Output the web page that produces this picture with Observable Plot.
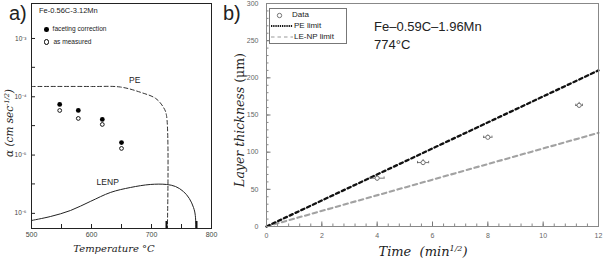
<!DOCTYPE html>
<html>
<head>
<meta charset="utf-8">
<script src="https://cdn.jsdelivr.net/npm/d3@7"></script>
<script src="https://cdn.jsdelivr.net/npm/@observablehq/plot@0.6"></script>
<style>
  body { margin: 0; background: #fff; }
  #fig { position: relative; width: 603px; height: 260px; overflow: hidden;
         font-family: "Liberation Sans", Arial, sans-serif; color: #222; }
  .abs { position: absolute; white-space: nowrap; line-height: 1; }
  .serif { font-family: "DejaVu Serif", serif; font-style: italic; }
  .rot { transform: translate(-50%, -50%) rotate(-90deg); }
  .ctr { transform: translate(-50%, -50%); }
  sup { font-size: 0.62em; vertical-align: 0.55em; line-height: 0; }
</style>
</head>
<body>
<div id="fig">
  <div id="layers"></div>
  <div class="abs" style="left:9px;top:3px;font-size:20px;">a)</div>
  <div class="abs" style="left:223px;top:3px;font-size:20px;">b)</div>

  <!-- panel a annotations -->
  <div class="abs" style="left:39px;top:7px;font-size:7.5px;color:#222;">Fe-0.56C-3.12Mn</div>
  <div class="abs" style="left:44px;top:26px;font-size:6.6px;color:#222;">
    <span style="display:inline-block;width:4.6px;height:4.6px;border-radius:50%;background:#000;margin-right:4px;vertical-align:-0.5px;"></span>faceting correction
  </div>
  <div class="abs" style="left:44px;top:39px;font-size:6.6px;color:#222;">
    <span style="display:inline-block;width:3.4px;height:3.4px;border-radius:50%;border:0.9px solid #000;margin-right:4px;vertical-align:-0.5px;"></span>as measured
  </div>
  <div class="abs serif rot" style="left:9px;top:123px;font-size:10.5px;">α (cm sec<sup>-1/2</sup>)</div>
  <div class="abs serif ctr" style="left:114px;top:249px;font-size:10px;">Temperature °C</div>

  <!-- panel b annotations -->
  <div class="abs" style="left:374px;top:20px;font-size:13px;color:#222;">Fe–0.59C–1.96Mn</div>
  <div class="abs" style="left:374px;top:38px;font-size:13px;color:#222;">774°C</div>
  <div class="abs serif rot" style="left:240px;top:120px;font-size:12.5px;">Layer thickness <span style="font-style:normal">(μm)</span></div>
  <div class="abs serif ctr" style="left:423px;top:251px;font-size:13px;">Time&nbsp;&nbsp;(min<sup>1/2</sup>)</div>

  <div class="abs" style="left:269px;top:8px;width:76px;height:34px;border:1px solid #777;background:#fff;font-size:8px;color:#222;">
    <svg width="76" height="34" style="position:absolute;left:0;top:0;">
      <circle cx="9.5" cy="6.5" r="2.2" fill="none" stroke="#555" stroke-width="0.8"/>
      <line x1="1" x2="23" y1="17" y2="17" stroke="#111" stroke-width="2" stroke-dasharray="1.3,0.9"/>
      <line x1="1" x2="23" y1="28" y2="28" stroke="#999" stroke-width="1.2" stroke-dasharray="3.5,3"/>
    </svg>
    <div class="abs" style="left:22px;top:2px;">Data</div>
    <div class="abs" style="left:24px;top:13px;">PE limit</div>
    <div class="abs" style="left:24px;top:24px;">LE-NP limit</div>
  </div>
</div>
<script>
// ---- Panel a: parabolic rate constant vs temperature ----
const peTemp = [500, 600, 648, 682, 707, 720, 725, 725];
const peAlpha = [1.50e-4, 1.50e-4, 1.47e-4, 1.19e-4, 9.35e-5, 6.56e-5, 4.78e-5, 1e-7];
const lenpTemp = [500, 532, 565, 598, 632, 665, 698, 725, 740, 753, 763, 770, 773, 775];
const lenpAlpha = [7.55e-7, 8.85e-7, 1.12e-6, 1.60e-6, 2.29e-6, 2.78e-6, 3.13e-6, 3.13e-6,
                   2.89e-6, 2.38e-6, 1.80e-6, 1.26e-6, 9.2e-7, 1e-7];
const sampleTemp = [547, 578, 618, 650];
const alphaFaceting = [7.38e-5, 5.82e-5, 4.08e-5, 1.64e-5];
const alphaMeasured = [5.82e-5, 4.25e-5, 3.35e-5, 1.30e-5];
const curveEndTemp = [725, 775];
const curveLabels = ["PE", "LENP"];
const curveLabelTemp = [672, 627];
const curveLabelAlpha = [1.9e-4, 3.4e-6];
const tempTicks = [500, 600, 700, 800];
const tempMinorTicks = [550, 650, 750];
const alphaTicks = [1e-3, 1e-4, 1e-5, 1e-6];
const alphaTickLabels = ["10⁻³", "10⁻⁴", "10⁻⁵", "10⁻⁶"];
const alphaMinorTicks = [3.2e-4, 3.2e-5, 3.2e-6];

// ---- Panel b: layer thickness vs square root of time ----
const sampleTime = [4.0, 5.66, 8.0, 11.3];
const thickness = [65, 86, 120, 163];
const timeErr = [0.25, 0.2, 0.15, 0.12];
const thicknessErr = [4, 4, 3, 4];
const limitTime = [0, 12];
const peLimit = [0, 210];
const lenpLimit = [0, 126];
const timeTicks = [0, 2, 4, 6, 8, 10, 12];
const thicknessTicks = [0, 50, 100, 150, 200, 250, 300];

const layers = document.getElementById("layers");
const font = "Liberation Sans, Arial, sans-serif";

function place(svg, left) {
  svg.style.position = "absolute";
  svg.style.left = left + "px";
  svg.style.top = "0px";
  layers.appendChild(svg);
}

// panel a
const aW = 225, aH = 260, aML = 31, aMR = 14, aMT = 3, aMB = 32;
const aFW = aW - aML - aMR, aFH = aH - aMT - aMB;
const pe = peTemp.map((t, i) => ({t, a: peAlpha[i]}));
const lenp = lenpTemp.map((t, i) => ({t, a: lenpAlpha[i]}));
const facet = sampleTemp.map((t, i) => ({t, a: alphaFaceting[i]}));
const meas = sampleTemp.map((t, i) => ({t, a: alphaMeasured[i]}));
const labelsA = curveLabels.map((s, i) => ({s, t: curveLabelTemp[i], a: curveLabelAlpha[i]}));

place(Plot.plot({
  width: aW, height: aH,
  marginLeft: aML, marginRight: aMR, marginTop: aMT, marginBottom: aMB,
  style: {fontFamily: font, background: "transparent", overflow: "visible"},
  x: {type: "linear", domain: [500, 800]},
  y: {type: "log", domain: [5.5e-7, 3.98e-3]},
  marks: [
    Plot.line(pe, {x: "t", y: "a", stroke: "#333", strokeWidth: 1, strokeDasharray: "4,2.6", curve: "catmull-rom", clip: true}),
    Plot.line(lenp, {x: "t", y: "a", stroke: "#222", strokeWidth: 1, curve: "catmull-rom", clip: true}),
    Plot.tickX(curveEndTemp, {x: d => d, insetTop: aFH - 7, stroke: "#111", strokeWidth: 2}),
    Plot.dot(facet, {x: "t", y: "a", r: 2.4, fill: "#000"}),
    Plot.dot(meas, {x: "t", y: "a", r: 1.9, fill: "#fff", stroke: "#000", strokeWidth: 0.9}),
    Plot.text(labelsA, {x: "t", y: "a", text: "s", fontSize: 8.5, fill: "#222"}),
    Plot.tickX(tempTicks.concat(tempMinorTicks), {x: d => d, insetTop: aFH - 4, stroke: "#222"}),
    Plot.tickY(alphaTicks.concat(alphaMinorTicks), {y: d => d, insetRight: aFW - 4, stroke: "#222"}),
    Plot.axisX({ticks: tempTicks, tickSize: 0, tickPadding: 4, fontSize: 7, fill: "#444", label: null}),
    Plot.axisY({ticks: alphaTicks, tickSize: 0, tickPadding: 5, fontSize: 6.5, fill: "#444", label: null,
      tickFormat: d => alphaTickLabels[alphaTicks.indexOf(d)]}),
    Plot.frame({stroke: "#222", strokeWidth: 1})
  ]
}), 0);

// panel b
const bX = 230;
const bW = 373, bH = 260, bML = 36, bMR = 5, bMT = 3, bMB = 34;
const bFW = bW - bML - bMR, bFH = bH - bMT - bMB;
const pts = sampleTime.map((t, i) => ({t, v: thickness[i], te: timeErr[i], ve: thicknessErr[i]}));
const limits = limitTime.map((t, i) => ({t, pe: peLimit[i], le: lenpLimit[i]}));
const minorTime = d3.range(0, 12.001, 0.4).map(d => +d.toFixed(1));
const minorThick = d3.range(0, 301, 10);

place(Plot.plot({
  width: bW, height: bH,
  marginLeft: bML, marginRight: bMR, marginTop: bMT, marginBottom: bMB,
  style: {fontFamily: font, background: "transparent", overflow: "visible"},
  x: {domain: [0, 12]},
  y: {domain: [0, 300]},
  marks: [
    Plot.line(limits, {x: "t", y: "le", stroke: "#a2a2a2", strokeWidth: 2.1, strokeDasharray: "4.5,3.5"}),
    Plot.line(limits, {x: "t", y: "pe", stroke: "#111", strokeWidth: 2.3, strokeDasharray: "3.4,3"}),
    Plot.ruleY(pts, {y: "v", x1: d => d.t - d.te, x2: d => d.t + d.te, stroke: "#555", strokeWidth: 0.8}),
    Plot.ruleX(pts, {x: "t", y1: d => d.v - d.ve, y2: d => d.v + d.ve, stroke: "#555", strokeWidth: 0.8}),
    Plot.ruleX(pts, {x: d => d.t - d.te, y1: d => d.v - 1.6, y2: d => d.v + 1.6, stroke: "#555", strokeWidth: 0.8}),
    Plot.ruleX(pts, {x: d => d.t + d.te, y1: d => d.v - 1.6, y2: d => d.v + 1.6, stroke: "#555", strokeWidth: 0.8}),
    Plot.dot(pts, {x: "t", y: "v", r: 2.1, fill: "#fff", stroke: "#555", strokeWidth: 0.8}),
    Plot.tickX(minorTime, {x: d => d, insetTop: bFH - 2.5, stroke: "#888"}),
    Plot.tickX(timeTicks, {x: d => d, insetTop: bFH - 4.5, stroke: "#777"}),
    Plot.tickY(minorThick, {y: d => d, insetRight: bFW - 2.5, stroke: "#888"}),
    Plot.tickY(thicknessTicks, {y: d => d, insetRight: bFW - 4.5, stroke: "#777"}),
    Plot.axisX({ticks: timeTicks, tickSize: 0, tickPadding: 7, fontSize: 7, fill: "#666", label: null}),
    Plot.axisY({ticks: thicknessTicks, tickSize: 0, tickPadding: 8, fontSize: 7, fill: "#666", label: null}),
    Plot.frame({stroke: "#888", strokeWidth: 1})
  ]
}), bX);
</script>
</body>
</html>
